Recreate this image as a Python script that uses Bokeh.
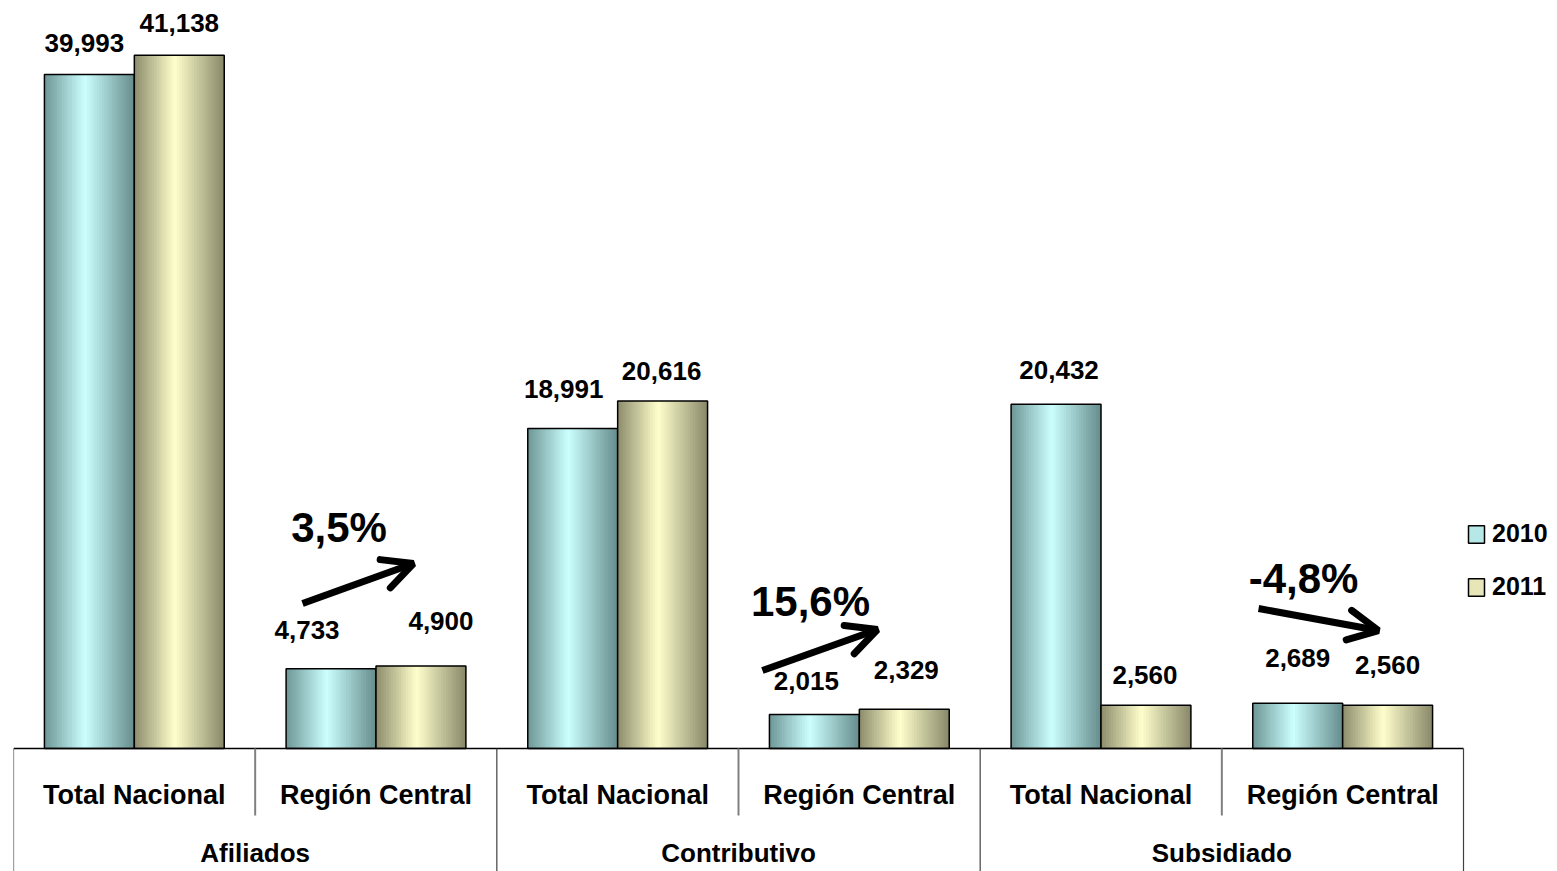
import numpy as np
from bokeh.plotting import figure
from bokeh.models import Range1d, Arrow, OpenHead, Legend, LegendItem
from bokeh.core.properties import value
from bokeh.embed import file_html
from bokeh.resources import INLINE

# ---------------- data ----------------
groups = ["Afiliados", "Contributivo", "Subsidiado"]
subgroups = ["Total Nacional", "Región Central"]
series = ["2010", "2011"]
v2010 = [39993, 4733, 18991, 2015, 20432, 2689]
v2011 = [41138, 4900, 20616, 2329, 2560, 2560]
changes = ["3,5%", "15,6%", "-4,8%"]

# ---------------- layout / style ----------------
FONT = "Liberation Sans"
W, H = 1557, 871
LEFT = 13
NCAT = len(groups) * len(subgroups)
CAT_PX = 1450 / NCAT
Y_MIN, Y_MAX = -7298, 44384
K = H / (Y_MAX - Y_MIN)          # pixels per data unit
BAR_W = 0.372
OFFS = [-0.186, 0.186]

# label nudges (pixels): horizontal shift and gap (text centre above bar top)
dx_lab = [[-5, -24, -9, -8, 3, 0], [0, 20, -1, 2, -1, 0]]
gap_lab = [[32, 39, 39, 34, 34, 45], [32, 45, 30, 39, 30, 40]]

# change annotations (data coordinates)
pct_pos = [(0.847, 13113), (2.798, 8722), (4.838, 10087)]
arrows = [(0.696, 8602, 1.155, 10975),
          (2.599, 4627, 3.075, 7059),
          (4.652, 8305, 5.148, 7000)]

GRAD = {
    "2010": ((0x6e, 0x96, 0x96), (0xcc, 0xff, 0xff), (0x66, 0x8c, 0x8c)),
    "2011": ((0x8c, 0x8c, 0x6c), (0xff, 0xff, 0xcc), (0x88, 0x88, 0x6a)),
}
LEG_COL = {"2010": "#b6e8e8", "2011": "#e6e6b8"}


def mix(c1, c2, t):
    return tuple(c1[i] + (c2[i] - c1[i]) * t for i in range(3))


def hexc(c):
    return "#%02x%02x%02x" % tuple(int(round(x)) for x in c)


def grad_color(name, t, tp=0.45):
    L, P, R = GRAD[name]
    if t <= tp:
        return hexc(mix(L, P, t / tp))
    return hexc(mix(P, R, (t - tp) / (1 - tp)))


x_end = -0.5 + (W - LEFT) / CAT_PX
p = figure(width=W, height=H, x_range=Range1d(-0.5, x_end),
           y_range=Range1d(Y_MIN, Y_MAX), output_backend="svg",
           toolbar_location=None, x_axis_location=None, y_axis_location=None,
           min_border_left=LEFT, min_border_right=0, min_border_top=0,
           min_border_bottom=0, outline_line_color=None)
p.grid.visible = False
p.background_fill_color = "white"
p.border_fill_color = "white"

values = [v2010, v2011]
NSTRIP = 36
for s, name in enumerate(series):
    sl, sr, st, sb, sc = [], [], [], [], []
    lefts, rights, tops = [], [], []
    for i, v in enumerate(values[s]):
        x0 = i + OFFS[s] - BAR_W / 2
        x1 = x0 + BAR_W
        lefts.append(x0)
        rights.append(x1)
        tops.append(v)
        step = BAR_W / NSTRIP
        for j in range(NSTRIP):
            a = x0 + step * j
            b = min(x1, a + step * 1.8)
            sl.append(a)
            sr.append(b)
            st.append(v)
            sb.append(0)
            sc.append(grad_color(name, (j + 0.5) / NSTRIP))
    p.quad(left=sl, right=sr, top=st, bottom=sb, fill_color=sc, line_color=None)
    p.quad(left=lefts, right=rights, top=tops, bottom=[0] * len(tops),
           fill_color=None, line_color="black", line_width=1.5)
    # value labels
    lx = [i + OFFS[s] + dx_lab[s][i] / CAT_PX for i in range(NCAT)]
    ly = [v + gap_lab[s][i] / K for i, v in enumerate(values[s])]
    p.text(x=lx, y=ly, text=[f"{v:,}" for v in values[s]],
           text_font=value(FONT), text_font_style="bold", text_font_size="26px",
           text_align="center", text_baseline="middle", text_color="black")

# category axis drawn manually
p.segment(x0=[-0.5], y0=[0], x1=[NCAT - 0.5], y1=[0], line_color="black", line_width=1.5)
gsep = [g * len(subgroups) - 0.5 for g in range(len(groups) + 1)]
p.segment(x0=gsep, y0=[0] * len(gsep), x1=gsep, y1=[Y_MIN] * len(gsep),
          line_color="#404040", line_width=1.2)
ssep = [g * len(subgroups) + 0.5 for g in range(len(groups))]
p.segment(x0=ssep, y0=[0] * len(ssep), x1=ssep, y1=[-67 / K] * len(ssep),
          line_color="#808080", line_width=2)

sub_x = list(range(NCAT))
sub_t = [subgroups[i % len(subgroups)] for i in range(NCAT)]
p.text(x=sub_x, y=[-46 / K] * NCAT, text=sub_t, text_font=value(FONT),
       text_font_style="bold", text_font_size="27px", text_align="center",
       text_baseline="middle", text_color="black")
grp_x = [g * len(subgroups) + 0.5 for g in range(len(groups))]
p.text(x=grp_x, y=[-104 / K] * len(groups), text=groups, text_font=value(FONT),
       text_font_style="bold", text_font_size="26px", text_align="center",
       text_baseline="middle", text_color="black")

# percentage change annotations
p.text(x=[q[0] for q in pct_pos], y=[q[1] for q in pct_pos], text=changes,
       text_font=value(FONT), text_font_style="bold", text_font_size="42px",
       text_align="center", text_baseline="middle", text_color="black")
for (xa, ya, xb, yb) in arrows:
    p.add_layout(Arrow(end=OpenHead(size=30, line_width=7, line_color="black",
                                    line_cap="round"),
                       x_start=xa, y_start=ya, x_end=xb, y_end=yb,
                       line_width=7, line_color="black"))

# legend (proxy renderers placed outside the visible x range)
items = []
for name in series:
    r = p.quad(left=[-20], right=[-19], top=[1], bottom=[0], fill_color=LEG_COL[name],
               line_color="black", line_width=1.5)
    items.append(LegendItem(label=name, renderers=[r]))
legend = Legend(items=items, location=(1453, 270), orientation="vertical",
                glyph_width=20, glyph_height=22, label_standoff=6, spacing=24,
                padding=0, margin=0, border_line_color=None,
                background_fill_alpha=0, label_text_font=FONT,
                label_text_font_style="bold", label_text_font_size="25px",
                label_text_color="black")
p.add_layout(legend)

open("out.html", "w").write(file_html(p, INLINE))
